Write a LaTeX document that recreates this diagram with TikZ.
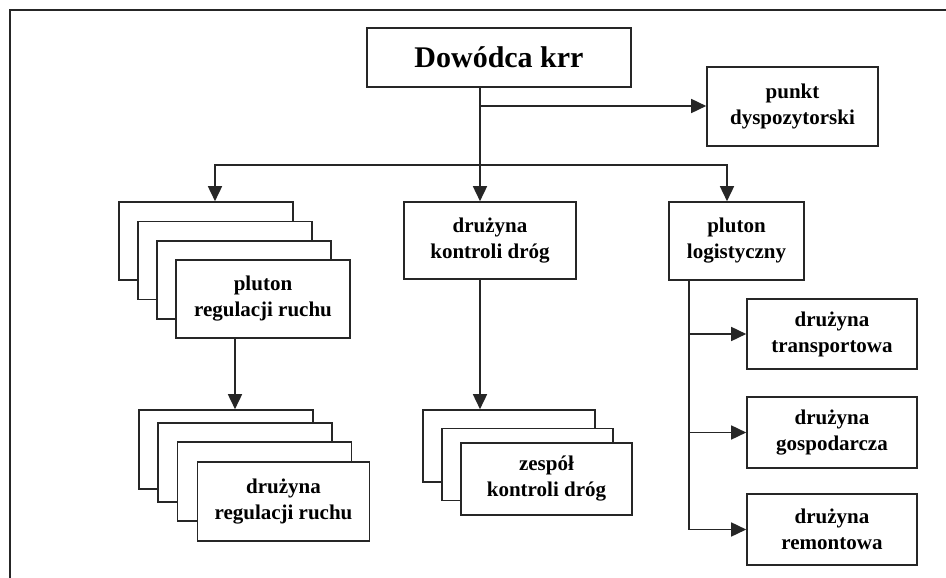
\documentclass[tikz,border=0pt]{standalone}
\usepackage{fontspec}
\setmainfont{Liberation Serif}
\usetikzlibrary{arrows.meta}
\begin{document}
\begin{tikzpicture}[x=1pt,y=-1pt,
  box/.style={draw=black!85, line width=1.6pt, fill=white, inner sep=0pt, align=center,
    font=\fontsize{21}{26}\selectfont\bfseries},
  conn/.style={draw=black!85, line width=1.6pt},
  arr/.style={conn, -{Triangle[length=15pt,width=14pt]}}]
\useasboundingbox (0,0) rectangle (946,578);
\fill[white] (0,0) rectangle (946,578);
\draw[conn] (946,10) -- (10,10) -- (10,578);

% top level
\node[box, minimum width=264pt, minimum height=59pt, font=\fontsize{30}{34}\selectfont\bfseries] (dow) at (499,57.5) {Dowódca krr};
\node[box, minimum width=171pt, minimum height=79pt] (pds) at (792.5,106.5) {punkt\\dyspozytorski};

% second row
\node[box, minimum width=174pt, minimum height=78pt] (plr1) at (206,241) {};
\node[box, minimum width=174pt, minimum height=78pt] (plr2) at (225,260.5) {};
\node[box, minimum width=174pt, minimum height=78pt] (plr3) at (244,280) {};
\node[box, minimum width=174pt, minimum height=78pt] (plr4) at (263,299) {pluton\\regulacji ruchu};
\node[box, minimum width=172pt, minimum height=77pt] (kdr) at (490,240.5) {drużyna\\kontroli dróg};
\node[box, minimum width=135pt, minimum height=78pt] (plog) at (736.5,241) {pluton\\logistyczny};

% third row, left stack
\node[box, minimum width=174pt, minimum height=79pt] (drr1) at (226,449.5) {};
\node[box, minimum width=174pt, minimum height=79pt] (drr2) at (245,462.5) {};
\node[box, minimum width=174pt, minimum height=79pt] (drr3) at (264.5,481.5) {};
\node[box, minimum width=172pt, minimum height=79pt] (drr4) at (283.5,501.5) {drużyna\\regulacji ruchu};

% third row, middle stack
\node[box, minimum width=172pt, minimum height=72pt] (zkd1) at (509,446) {};
\node[box, minimum width=171pt, minimum height=72pt] (zkd2) at (527.5,464.5) {};
\node[box, minimum width=171pt, minimum height=72pt] (zkd3) at (546.5,479) {zespół\\kontroli dróg};

% right column
\node[box, minimum width=170pt, minimum height=70pt] (tra) at (832,334) {drużyna\\transportowa};
\node[box, minimum width=170pt, minimum height=71pt] (gos) at (832,432.5) {drużyna\\gospodarcza};
\node[box, minimum width=170pt, minimum height=71pt] (rem) at (832,529.5) {drużyna\\remontowa};

% junctions
\coordinate (j1) at (480,106);
\coordinate (j2) at (480,165);
\coordinate (jl) at (215,165);
\coordinate (jr) at (727,165);
\coordinate (jp) at (235,0);
\coordinate (jv) at (689,0);

% connectors
\draw[arr] (dow.south -| j1) -- (kdr.north -| j1);
\draw[arr] (j1) -- (pds.west |- j1);
\draw[arr] (j2) -- (jl) -- (jl |- plr1.north);
\draw[arr] (j2) -- (jr) -- (jr |- plog.north);
\draw[arr] (plr4.south -| jp) -- (drr1.north -| jp);
\draw[arr] (kdr.south -| j1) -- (zkd1.north -| j1);
\draw[arr] (plog.south -| jv) |- (rem.west);
\draw[arr] (jv |- tra.west) -- (tra.west);
\draw[arr] (jv |- gos.west) -- (gos.west);
\end{tikzpicture}
\end{document}
